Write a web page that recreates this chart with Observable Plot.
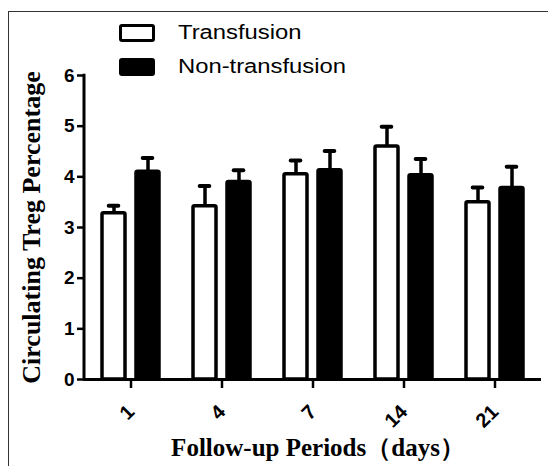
<!DOCTYPE html>
<html>
<head>
<meta charset="utf-8">
<script src="https://cdn.jsdelivr.net/npm/d3@7"></script>
<script src="https://cdn.jsdelivr.net/npm/@observablehq/plot@0.6"></script>
<style>
  html, body { margin: 0; padding: 0; background: #fff; }
  #wrap { position: relative; width: 548px; height: 466px; overflow: hidden; background: #fff; }
  #wrap svg { position: absolute; left: 0; top: 0; }
  .frameline { position: absolute; left: 8px; top: 11px; width: 700px; height: 700px;
    border-left: 1.5px solid #333; border-top: 1.5px solid #333; pointer-events: none; }
  .sw { position: absolute; left: 119px; width: 36px; height: 18px; box-sizing: border-box;
    border: 3.5px solid #000; border-radius: 3px; }
  .lt { position: absolute; left: 178px; font: 20px "Liberation Sans", Arial, sans-serif; line-height: 20px; color: #000;
    white-space: nowrap; transform: scaleX(1.19); transform-origin: 0 0; }
</style>
</head>
<body>
<div id="wrap"></div>
<script>
const periods = ["1", "4", "7", "14", "21"];
const groups = ["Transfusion", "Non-transfusion"];
const transfusion = [3.28, 3.42, 4.05, 4.60, 3.50];
const transfusionErr = [0.15, 0.40, 0.27, 0.39, 0.29];
const nonTransfusion = [4.10, 3.90, 4.13, 4.03, 3.78];
const nonTransfusionErr = [0.27, 0.23, 0.38, 0.32, 0.42];
const yTicks = [0, 1, 2, 3, 4, 5, 6];
const xLabel = "Follow-up Periods（days）";
const yLabel = "Circulating Treg Percentage";

const tRows = periods.map((p, i) => ({period: p, group: groups[0], value: transfusion[i], err: transfusionErr[i]}));
const nRows = periods.map((p, i) => ({period: p, group: groups[1], value: nonTransfusion[i], err: nonTransfusionErr[i]}));

const barInset = 19, capInset = 25.7, off = 17;

const yAxisLine = (index, scales, values, dimensions) => {
  const [y0, y1] = [scales.y(yTicks[0]), scales.y(yTicks[yTicks.length - 1])];
  return d3.create("svg:line")
    .attr("x1", dimensions.marginLeft).attr("x2", dimensions.marginLeft)
    .attr("y1", y0 + 1.5).attr("y2", y1 - 1.25)
    .attr("stroke", "#000").attr("stroke-width", 3).node();
};

const serif = "'Liberation Serif', 'Times New Roman', serif";
const sans = "'Liberation Sans', Arial, sans-serif";

const chart = Plot.plot({
  width: 548, height: 466,
  marginLeft: 84, marginRight: 7, marginTop: 75, marginBottom: 87,
  style: {fontFamily: sans, fontWeight: "bold", fontSize: "18px", color: "#000", background: "transparent"},
  x: {domain: periods, paddingInner: 0.328, paddingOuter: 0.164, label: null},
  y: {domain: [0, 6], label: null},
  marks: [
    Plot.barY(tRows, {x: "period", y: "value", dx: -off, insetLeft: barInset, insetRight: barInset, fill: "#fff", stroke: "#000", strokeWidth: 3.5, rx: 1.5}),
    Plot.barY(nRows, {x: "period", y: "value", dx: off, insetLeft: barInset, insetRight: barInset, fill: "#000", stroke: "#000", strokeWidth: 3.5, rx: 1.5}),
    Plot.ruleX(tRows, {x: "period", y1: "value", y2: d => d.value + d.err, dx: -off, stroke: "#000", strokeWidth: 3.5}),
    Plot.ruleX(nRows, {x: "period", y1: "value", y2: d => d.value + d.err, dx: off, stroke: "#000", strokeWidth: 3.5}),
    Plot.tickY(tRows, {x: "period", y: d => d.value + d.err, dx: -off, insetLeft: capInset, insetRight: capInset, stroke: "#000", strokeWidth: 4, strokeLinecap: "round"}),
    Plot.tickY(nRows, {x: "period", y: d => d.value + d.err, dx: off, insetLeft: capInset, insetRight: capInset, stroke: "#000", strokeWidth: 4, strokeLinecap: "round"}),
    Plot.ruleY([0], {stroke: "#000", strokeWidth: 3}),
    yAxisLine,
    Plot.axisY({ticks: yTicks, tickFormat: "d", tickSize: 7, tickPadding: 3, stroke: "#000", strokeWidth: 2.5, label: null}),
    Plot.axisX({tickSize: 9, tickPadding: 20, tickRotate: -45, stroke: "#000", strokeWidth: 2.5, label: null}),
    Plot.text([xLabel], {frameAnchor: "bottom", lineAnchor: "middle", textAnchor: "middle", dx: 5, dy: 68, fontSize: 25, fontWeight: "bold", fontFamily: serif, fill: "#000"}),
    Plot.text([yLabel], {frameAnchor: "left", lineAnchor: "middle", textAnchor: "middle", dx: -53, rotate: -90, fontSize: 26, fontWeight: "bold", fontFamily: serif, fill: "#000"})
  ]
});

const wrap = document.getElementById("wrap");
wrap.appendChild(chart);
// enlarge tick labels (Plot's axis sets its own font-size on the group)
d3.select(chart).selectAll('g[aria-label="x-axis tick label"]').attr("font-size", 20).style("font-size", "20px");
d3.select(chart).selectAll('g[aria-label="y-axis tick label"]').attr("font-size", 19).style("font-size", "19px");

const legend = [
  {label: groups[0], fill: "#fff", swTop: 24, textTop: 22.4},
  {label: groups[1], fill: "#000", swTop: 58, textTop: 56.4}
];
for (const item of legend) {
  const sw = document.createElement("div");
  sw.className = "sw";
  sw.style.top = item.swTop + "px";
  sw.style.background = item.fill;
  wrap.appendChild(sw);
  const t = document.createElement("div");
  t.className = "lt";
  t.style.top = item.textTop + "px";
  t.textContent = item.label;
  wrap.appendChild(t);
}
const fl = document.createElement("div");
fl.className = "frameline";
wrap.appendChild(fl);
</script>
</body>
</html>
